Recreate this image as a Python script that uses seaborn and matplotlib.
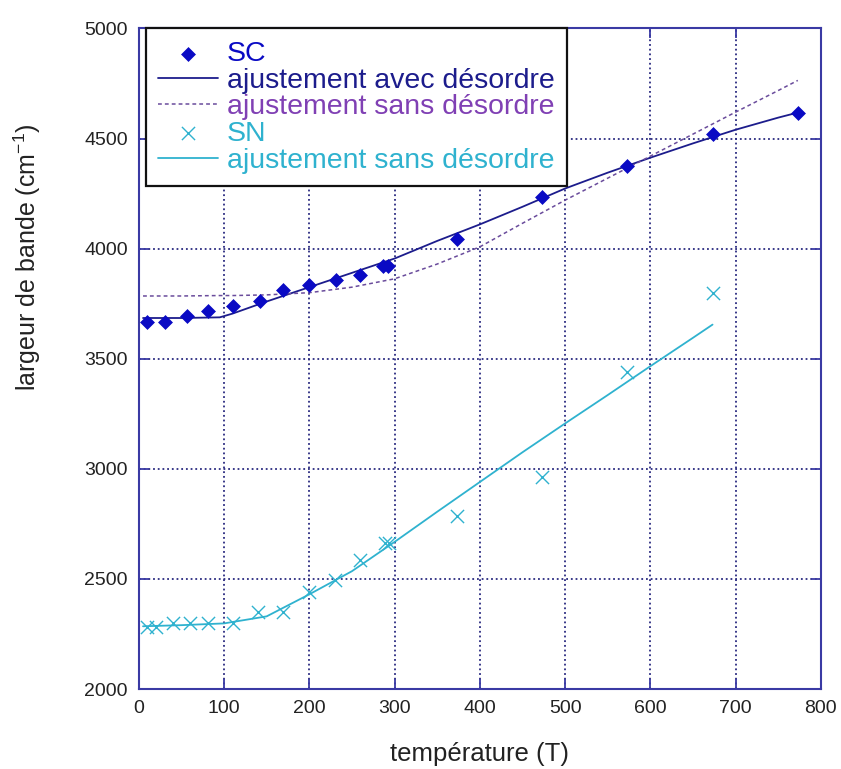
import matplotlib as mpl
import matplotlib.pyplot as plt
import numpy as np
import seaborn as sns
import pandas as pd

sns.set_style("white")
mpl.rcParams["font.family"] = ["Liberation Sans", "DejaVu Sans"]

# measured points, SC phase
t_sc = [10, 31, 56, 81, 110, 142, 169, 200, 231, 259, 287, 292, 373, 473, 573, 673, 773]
w_sc = [3668, 3668, 3692, 3715, 3738, 3760, 3812, 3835, 3858, 3880, 3922, 3922,
        4043, 4236, 4376, 4520, 4615]

# measured points, SN phase
t_sn = [10, 20, 40, 60, 81, 110, 140, 169, 200, 230, 259, 289, 293, 373, 473, 573, 673]
w_sn = [2282, 2282, 2301, 2301, 2301, 2300, 2351, 2351, 2440, 2495, 2585, 2663, 2663,
        2786, 2962, 3438, 3800]

# fits
t_fit_sc = [5, 50, 95, 110, 150, 200, 250, 300, 350, 400, 450, 500, 550, 600, 650, 700, 750, 773]
w_fit_avec = [3685, 3685, 3688, 3705, 3760, 3825, 3890, 3955, 4035, 4110, 4190, 4273,
              4345, 4413, 4478, 4540, 4595, 4618]
w_fit_sans = [3785, 3785, 3787, 3787, 3790, 3800, 3825, 3863, 3930, 4008, 4115, 4220,
              4320, 4420, 4520, 4620, 4718, 4764]

t_fit_sn = [5, 50, 100, 150, 200, 250, 300, 350, 400, 450, 500, 550, 600, 650, 673]
w_fit_sn = [2285, 2290, 2298, 2330, 2430, 2535, 2668, 2805, 2940, 3075, 3206, 3335,
            3466, 3595, 3655]

x_ticks = [0, 100, 200, 300, 400, 500, 600, 700, 800]
y_ticks = [2000, 2500, 3000, 3500, 4000, 4500, 5000]

c_sc = "#0a0ac4"
c_avec = "#1c1c8c"
c_sans = "#6a4c9c"
c_sn = "#2fb2cf"
c_frame = "#3a3aa4"

fig, ax = plt.subplots(figsize=(8.41, 7.69), dpi=100)
fig.subplots_adjust(left=0.165, right=0.976, top=0.963, bottom=0.104)

ax.grid(True, color="#2a2a80", linestyle=(0, (1, 1.6)), linewidth=1.3)
ax.set_axisbelow(True)

sns.scatterplot(x=t_sc, y=w_sc, ax=ax, marker="D", s=50, color=c_sc,
                edgecolor=c_sc, linewidth=0.5, label="SC", zorder=4)
sns.lineplot(x=t_fit_sc, y=w_fit_avec, ax=ax, color=c_avec, linewidth=1.3,
             sort=False, estimator=None, label="ajustement avec désordre", zorder=3)
sns.lineplot(x=t_fit_sc, y=w_fit_sans, ax=ax, color=c_sans, linewidth=1.1,
             linestyle=(0, (2.5, 2)), sort=False, estimator=None,
             label="ajustement sans désordre", zorder=3)
sns.scatterplot(x=t_sn, y=w_sn, ax=ax, marker="x", s=90, color=c_sn,
                linewidth=1.0, label="SN", zorder=4)
sns.lineplot(x=t_fit_sn, y=w_fit_sn, ax=ax, color=c_sn, linewidth=1.3,
             sort=False, estimator=None, label="ajustement sans désordre", zorder=3)

ax.set_xlim(0, 800)
ax.set_ylim(2000, 5000)
ax.set_xticks(x_ticks)
ax.set_yticks(y_ticks)
ax.tick_params(axis="both", which="major", direction="in", length=7, width=1.3,
               color=c_frame, labelsize=14, pad=8, top=True, right=True,
               bottom=True, left=True, labelcolor="#222222")
for sp in ax.spines.values():
    sp.set_color(c_frame)
    sp.set_linewidth(1.5)

ax.set_xlabel("température (T)", fontsize=18.5, labelpad=18, color="#222222")
ax.set_ylabel("largeur de bande (cm$^{\\mathregular{-1}}$)", fontsize=18,
              color="#222222")
ax.yaxis.set_label_coords(-0.14, 0.653)

leg = ax.legend(loc="upper left", bbox_to_anchor=(0.01, 1.0), borderaxespad=0,
                fontsize=20.5, frameon=True, fancybox=False, framealpha=1,
                edgecolor="#111111", labelspacing=0.02, handlelength=2.1,
                handletextpad=0.3, borderpad=0.45,
                labelcolor=[c_sc, c_avec, "#8040b4", c_sn, c_sn])
leg.get_frame().set_linewidth(1.6)
leg.set_zorder(10)

fig.savefig("out.png", dpi=100)
